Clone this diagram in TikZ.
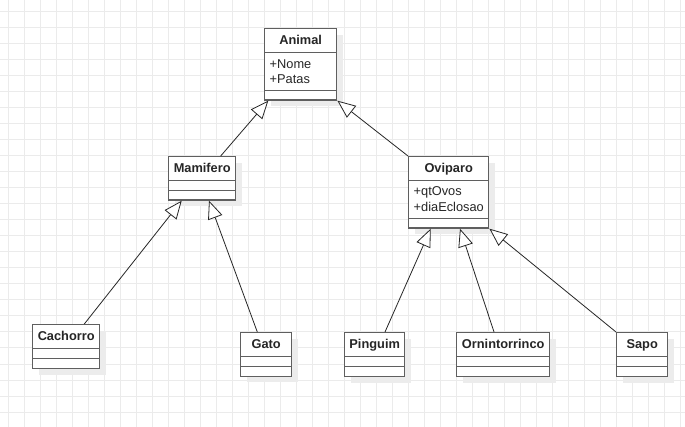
\documentclass[tikz,border=0pt]{standalone}
\usepackage{fontspec}
\setmainfont{Liberation Sans}
\usetikzlibrary{arrows.meta,calc,shadows}
\definecolor{gridc}{RGB}{235,235,235}
\definecolor{boxc}{RGB}{95,95,95}
\definecolor{shadc}{RGB}{236,236,236}
\tikzset{
  cls/.style={draw=boxc, line width=1.4pt, fill=white, rectangle, inner sep=0pt, anchor=north west,
    general shadow={fill=shadc, shadow xshift=6pt, shadow yshift=-6pt}},
  sepl/.style={draw=boxc, line width=1.4pt},
  ttl/.style={anchor=base, inner sep=0pt, font=\fontsize{12.8}{15}\selectfont\bfseries, text=black!85},
  attr/.style={anchor=base west, inner sep=0pt, font=\fontsize{12.8}{15}\selectfont, text=black!85},
  inh/.style={draw=black!85, line width=0.8pt, -{Triangle[length=18pt,width=15pt,fill=white,line width=0.8pt]}}
}
\newcommand\clsseps[3]{%
  \draw[sepl] ([yshift=-#2pt]#1.north west) -- ([yshift=-#2pt]#1.north east);
  \draw[sepl] ([yshift=-#3pt]#1.north west) -- ([yshift=-#3pt]#1.north east);}
\begin{document}
\begin{tikzpicture}[x=1pt,y=-1pt]
\useasboundingbox (0,0) rectangle (685,427);
\fill[white] (0,0) rectangle (685,427);
\foreach \gx in {8,24,...,684} {\draw[gridc, line width=1pt] (\gx,0) -- (\gx,427);}
\foreach \gy in {12,28,...,426} {\draw[gridc, line width=1pt] (0,\gy) -- (685,\gy);}

% classes
\node[cls, minimum width=72pt, minimum height=71.3pt] (animal) at (264,28) {};
\clsseps{animal}{24.7}{62.7}
\node[ttl] (animal-t) at ([yshift=-16.9pt]animal.north) {Animal};
\node[attr] (animal-a1) at ([xshift=5.5pt,yshift=-40.3pt]animal.north west) {+Nome};
\node[attr] (animal-a2) at ([xshift=5.5pt,yshift=-55.6pt]animal.north west) {+Patas};

\node[cls, minimum width=67pt, minimum height=43.3pt] (mam) at (168,156) {};
\clsseps{mam}{24.7}{34.7}
\node[ttl] (mam-t) at ([yshift=-16.9pt]mam.north) {Mamifero};

\node[cls, minimum width=80pt, minimum height=71.3pt] (ovi) at (408,156) {};
\clsseps{ovi}{24.7}{62.7}
\node[ttl] (ovi-t) at ([yshift=-16.9pt]ovi.north) {Oviparo};
\node[attr] (ovi-a1) at ([xshift=5.5pt,yshift=-40pt]ovi.north west) {+qtOvos};
\node[attr] (ovi-a2) at ([xshift=5.5pt,yshift=-55.3pt]ovi.north west) {+diaEclosao};

\node[cls, minimum width=67pt, minimum height=44pt] (cach) at (32,324) {};
\clsseps{cach}{24.7}{34.7}
\node[ttl] (cach-t) at ([yshift=-16.9pt]cach.north) {Cachorro};

\node[cls, minimum width=51pt, minimum height=43.5pt] (gato) at (240,332) {};
\clsseps{gato}{24.7}{34.7}
\node[ttl] (gato-t) at ([yshift=-16.9pt]gato.north) {Gato};

\node[cls, minimum width=60pt, minimum height=44pt] (ping) at (344,332) {};
\clsseps{ping}{24.7}{34.7}
\node[ttl] (ping-t) at ([yshift=-16.9pt]ping.north) {Pinguim};

\node[cls, minimum width=93pt, minimum height=44pt] (orni) at (456,332) {};
\clsseps{orni}{24.7}{34.7}
\node[ttl] (orni-t) at ([yshift=-16.9pt]orni.north) {Ornintorrinco};

\node[cls, minimum width=51pt, minimum height=44pt] (sapo) at (616,332) {};
\clsseps{sapo}{24.7}{34.7}
\node[ttl] (sapo-t) at ([yshift=-16.9pt]sapo.north) {Sapo};

% inheritance connectors
\draw[inh] ($(mam.north west)+(52.7,0)$) -- ($(animal.south west)+(4.3,0)$);
\draw[inh] (ovi.north west) -- (animal.south east);
\draw[inh] ($(cach.north west)+(52.3,0)$) -- ($(mam.south west)+(13.7,0)$);
\draw[inh] ($(gato.north west)+(17.3,0)$) -- ($(mam.south west)+(41,0)$);
\draw[inh] ($(ping.north west)+(41,0)$) -- ($(ovi.south west)+(22.7,0)$);
\draw[inh] ($(orni.north west)+(38,0)$) -- ($(ovi.south west)+(52,0)$);
\draw[inh] (sapo.north west) -- (ovi.south east);
\end{tikzpicture}
\end{document}
